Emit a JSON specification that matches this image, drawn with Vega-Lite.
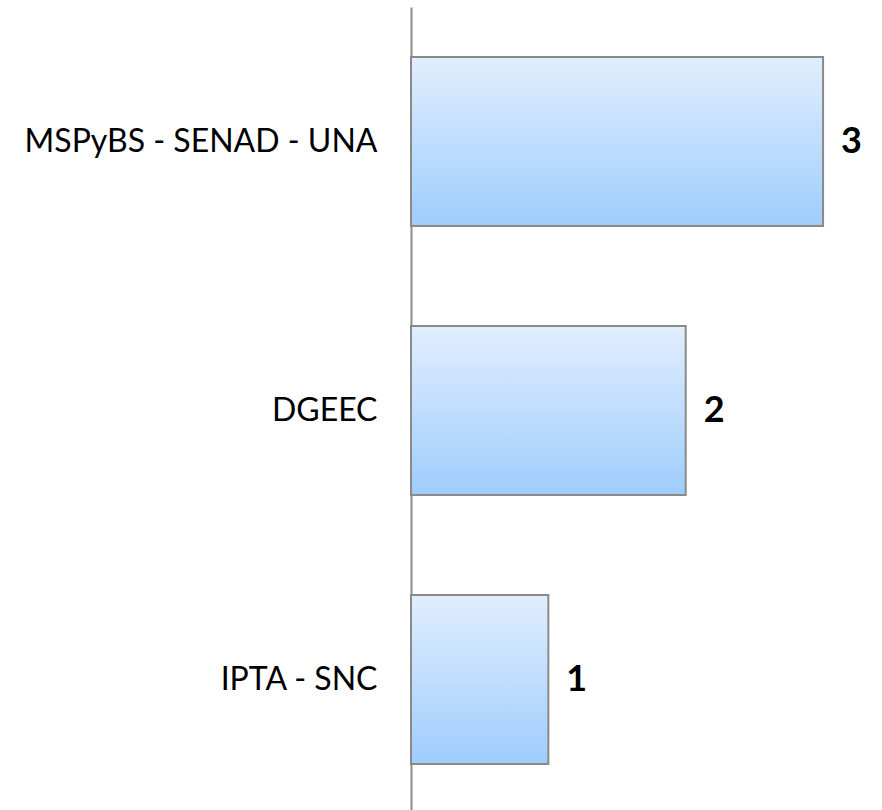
{
  "$schema": "https://vega.github.io/schema/vega-lite/v6.json",
  "autosize": {"type": "none"},
  "width": 467,
  "height": 807,
  "padding": {"left": 411, "top": 7, "right": 4, "bottom": 0},
  "background": "white",
  "config": {"view": {"stroke": null}},
  "data": {"values": [
    {"org": "MSPyBS - SENAD - UNA", "n": 3},
    {"org": "DGEEC", "n": 2},
    {"org": "IPTA - SNC", "n": 1}
  ]},
  "encoding": {
    "y": {"field": "org", "type": "nominal", "sort": null, "title": null,
      "scale": {"paddingInner": 0.372, "paddingOuter": 0.186},
      "axis": {"domainColor": "#8c8c8c", "domainWidth": 2, "ticks": false, "labelPadding": 34, "labelLimit": 0,
        "labelFont": "Lato", "labelFontSize": 32, "labelColor": "#000000", "labelFontWeight": "normal"}},
    "x": {"field": "n", "type": "quantitative", "scale": {"domain": [0, 3.4]}, "axis": null}
  },
  "layer": [
    {"mark": {"type": "bar", "stroke": "#8a8a8a", "strokeWidth": 2,
      "fill": {"gradient": "linear", "x1": 0, "y1": 0, "x2": 0, "y2": 1,
        "stops": [{"offset": 0, "color": "#e1eefd"}, {"offset": 1, "color": "#9ecdfd"}]}}},
    {"mark": {"type": "text", "align": "left", "dx": 18, "font": "Lato", "fontSize": 36, "fontWeight": "bold", "color": "#000000"},
      "encoding": {"text": {"field": "n", "type": "quantitative"}}}
  ]
}
